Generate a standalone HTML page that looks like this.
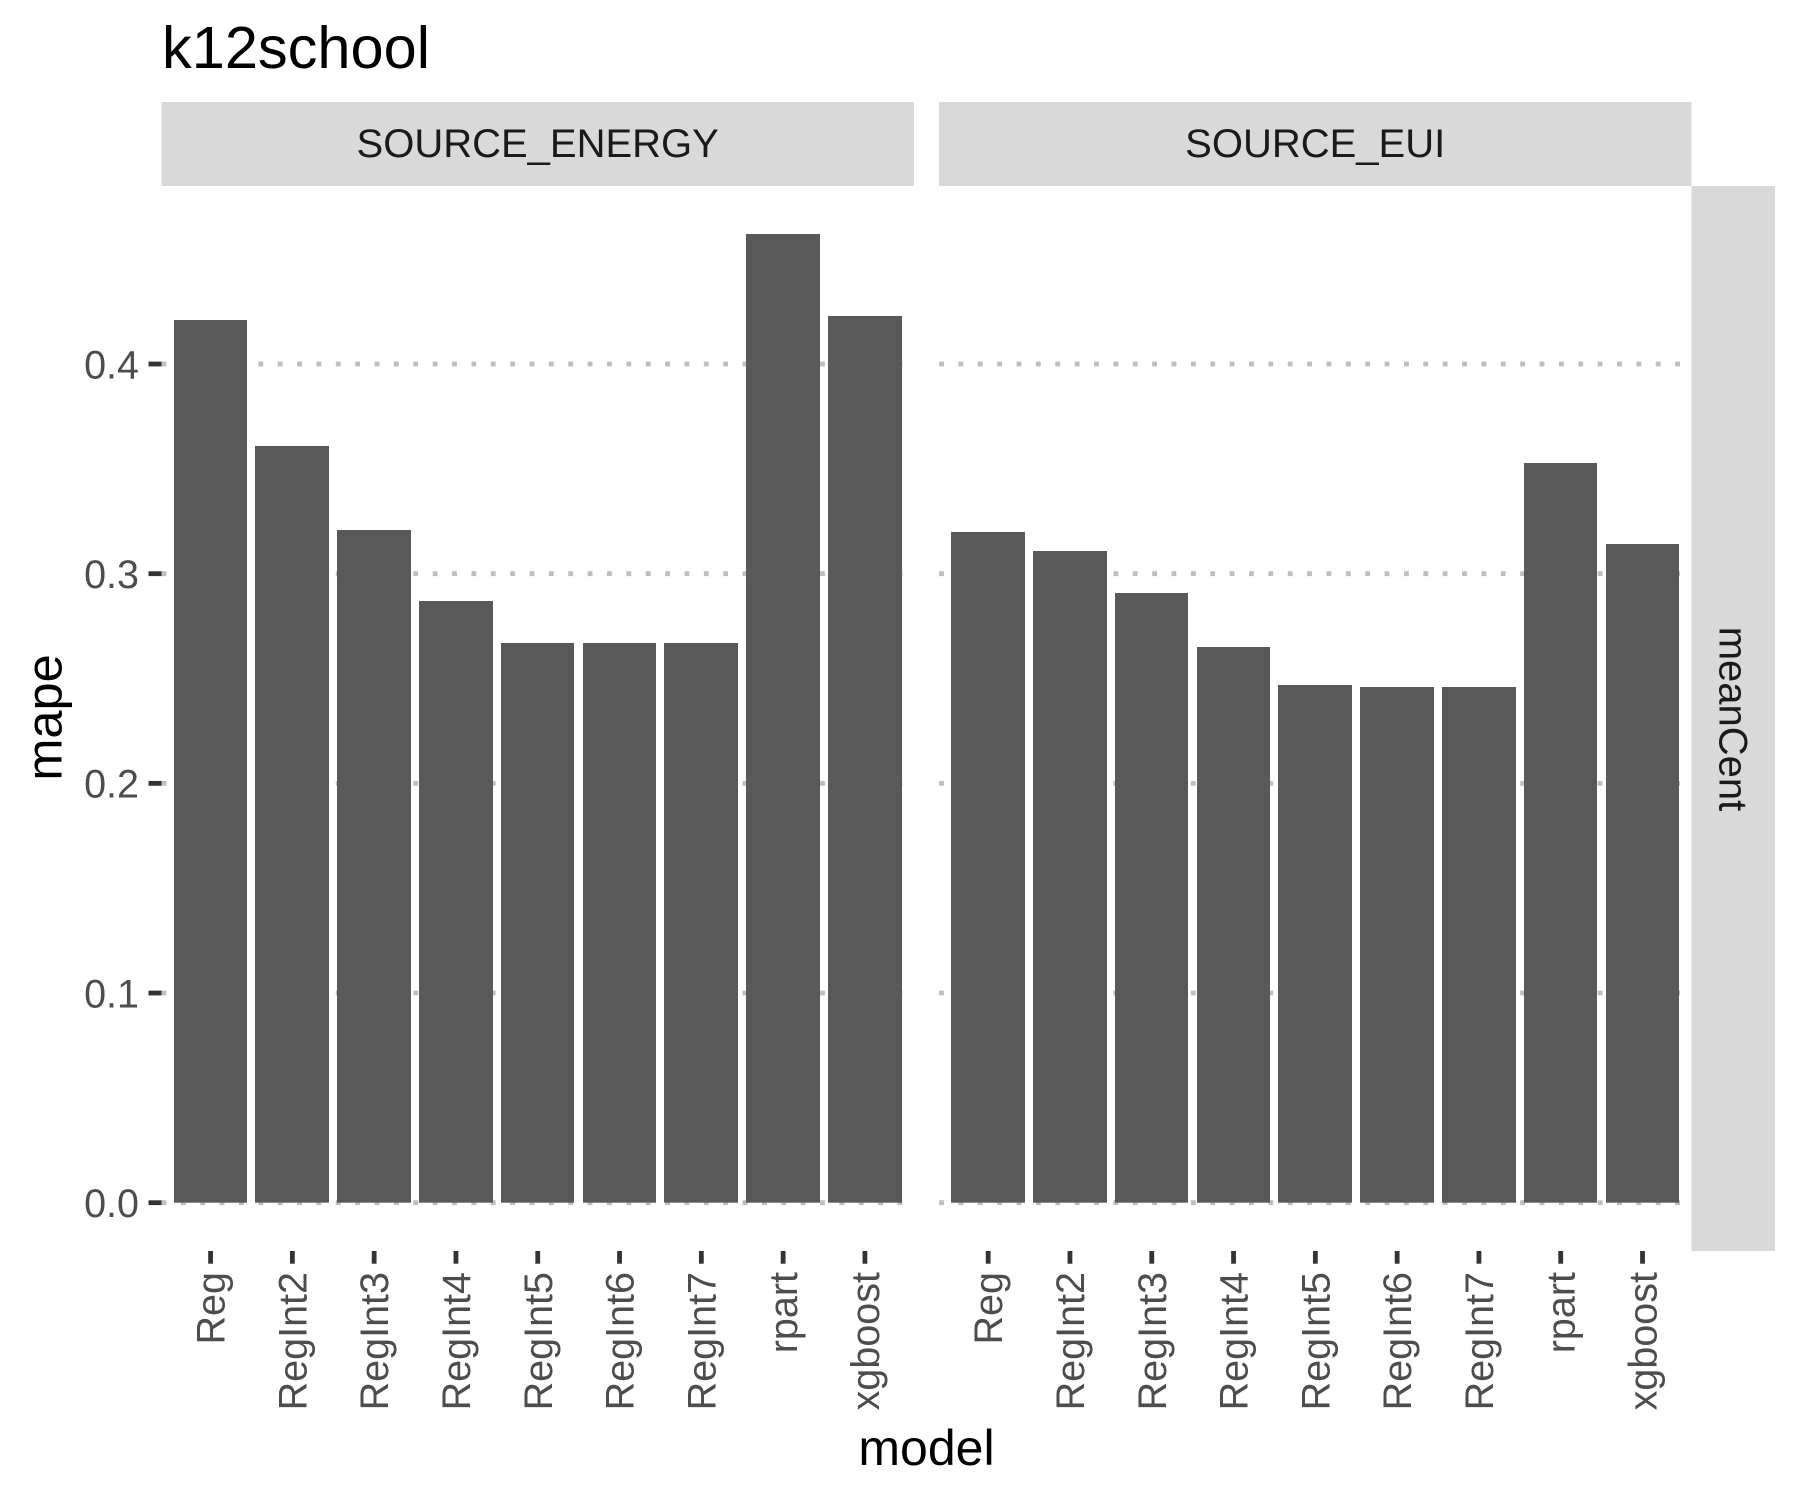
<!DOCTYPE html>
<html lang="en">
<head>
<meta charset="utf-8">
<title>k12school</title>
<style>
html,body{margin:0;padding:0;background:#fff;}
svg{display:block;font-family:"Liberation Sans",Arial,sans-serif;}
</style>
</head>
<body>
<svg id="chart" xmlns="http://www.w3.org/2000/svg" width="1800" height="1500" viewBox="0 0 1800 1500">
  <rect x="0" y="0" width="1800" height="1500" fill="#ffffff"/>
  <text x="162" y="68" font-size="59.5" fill="#000000">k12school</text>
  <rect x="161.5" y="102" width="752.5" height="84" fill="#d9d9d9"/>
  <text x="537.7" y="157" font-size="40" fill="#1a1a1a" text-anchor="middle">SOURCE_ENERGY</text>
  <rect x="939" y="102" width="752.5" height="84" fill="#d9d9d9"/>
  <text x="1315.2" y="157" font-size="40" fill="#1a1a1a" text-anchor="middle">SOURCE_EUI</text>
  <rect x="1691.5" y="186" width="83.5" height="1065" fill="#d9d9d9"/>
  <text transform="translate(1719.5 719) rotate(90)" font-size="40" fill="#1a1a1a" text-anchor="middle">meanCent</text>
  <text transform="translate(61.5 717.5) rotate(-90)" font-size="50.5" fill="#000000" text-anchor="middle">mape</text>
  <text x="926.5" y="1465" font-size="50" fill="#000000" text-anchor="middle">model</text>
  <g id="marks"></g>
</svg>
<script>
const categories = ["Reg", "RegInt2", "RegInt3", "RegInt4", "RegInt5", "RegInt6", "RegInt7", "rpart", "xgboost"];
const sourceEnergyValues = [0.421, 0.3609, 0.3208, 0.287, 0.2669, 0.2669, 0.2669, 0.462, 0.4229];
const sourceEuiValues = [0.3199, 0.3108, 0.2908, 0.265, 0.2469, 0.246, 0.246, 0.3528, 0.3142];
const yTickValues = [0, 0.1, 0.2, 0.3, 0.4];
const yTickLabels = ["0.0", "0.1", "0.2", "0.3", "0.4"];

const panelTop = 186;
const panelBottom = 1251;
const panelWidth = 752.5;
const panelLefts = [161.5, 939.1];
const seriesByPanel = [sourceEnergyValues, sourceEuiValues];
const panelKeys = ["source-energy", "source-eui"];
const barFraction = 0.9;
const svgNS = "http://www.w3.org/2000/svg";
const marks = document.getElementById("marks");

function yScale(v) {
  return 1202.7 - v * 2096.7;
}
function bandStep() {
  return panelWidth / (categories.length + 0.2);
}
function xScale(panelIndex, catIndex) {
  return panelLefts[panelIndex] + (catIndex + 0.6) * bandStep();
}
function mk(tag, attrs) {
  const el = document.createElementNS(svgNS, tag);
  for (const k in attrs) {
    el.setAttribute(k, attrs[k]);
  }
  marks.appendChild(el);
  return el;
}

yTickValues.forEach(function (v, i) {
  const y = yScale(v);
  const tick = mk("line", {x1: 148.5, x2: 161.5, y1: y, y2: y, stroke: "#333333", "stroke-width": 4.8});
  
  
  const label = mk("text", {x: 139, y: y + 14.3, "font-size": 39.5, fill: "#4d4d4d", "text-anchor": "end"});
  label.textContent = yTickLabels[i];
  
  
});

panelLefts.forEach(function (left, p) {
  yTickValues.forEach(function (v) {
    const y = yScale(v);
    const grid = mk("line", {x1: left, x2: left + panelWidth, y1: y, y2: y, stroke: "#bebebe", "stroke-width": 4.8, "stroke-dasharray": "4.84 14.53"});
    
    
  });
  const values = seriesByPanel[p];
  const barWidth = bandStep() * barFraction;
  categories.forEach(function (cat, c) {
    const cx = xScale(p, c);
    const top = Math.round(yScale(values[c]));
    const x0 = Math.round(cx - barWidth / 2 - 0.2);
    const x1 = Math.round(cx + barWidth / 2 - 0.1);
    const bar = mk("rect", {x: x0, y: top, width: x1 - x0, height: yScale(0) - top, fill: "#595959"});
    
    
    const tick = mk("line", {x1: cx, x2: cx, y1: panelBottom, y2: panelBottom + 12.7, stroke: "#333333", "stroke-width": 4.8});
    
    
    const label = mk("text", {transform: "translate(" + (cx + 14) + " 1272) rotate(-90)", "font-size": 39.5, fill: "#4d4d4d", "text-anchor": "end"});
    label.textContent = cat;
    
    
  });
});
</script>
</body>
</html>
